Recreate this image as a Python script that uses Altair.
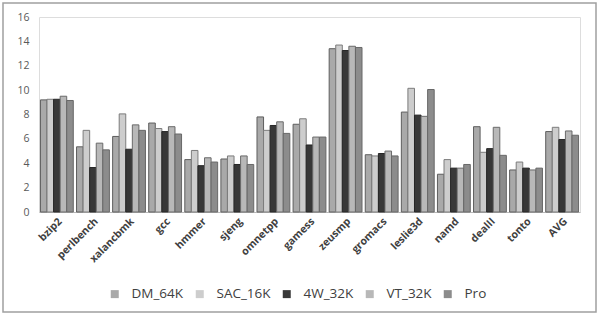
import altair as alt
import pandas as pd

categories = ["bzip2", "perlbench", "xalancbmk", "gcc", "hmmer", "sjeng", "omnetpp",
              "gamess", "zeusmp", "gromacs", "leslie3d", "namd", "dealII", "tonto", "AVG"]
series = ["DM_64K", "SAC_16K", "4W_32K", "VT_32K", "Pro"]

dm_64k  = [9.2, 5.35, 6.2, 7.3, 4.3, 4.35, 7.8, 7.2, 13.4, 4.7, 8.2, 3.1, 7.0, 3.45, 6.6]
sac_16k = [9.25, 6.7, 8.05, 6.85, 5.05, 4.6, 6.7, 7.65, 13.7, 4.6, 10.15, 4.3, 4.9, 4.1, 6.95]
w4_32k  = [9.25, 3.65, 5.15, 6.6, 3.8, 3.9, 7.1, 5.5, 13.25, 4.8, 7.95, 3.6, 5.2, 3.6, 5.95]
vt_32k  = [9.5, 5.65, 7.15, 7.0, 4.45, 4.6, 7.4, 6.15, 13.6, 5.0, 7.85, 3.6, 6.95, 3.45, 6.65]
pro     = [9.15, 5.1, 6.7, 6.4, 4.1, 3.9, 6.45, 6.15, 13.5, 4.6, 10.05, 3.9, 4.65, 3.6, 6.3]

values = [dm_64k, sac_16k, w4_32k, vt_32k, pro]
rows = []
for s, vals in zip(series, values):
    for c, v in zip(categories, vals):
        rows.append({"cat": c, "series": s, "value": v})
df = pd.DataFrame(rows)

fills = ["#a9a9a9", "#cdcdcd", "#383838", "#b8b8b8", "#8c8c8c"]
strokes = ["#5e5e5e", "#7c7c7c", "#262626", "#6a6a6a", "#686868"]

bars = alt.Chart(df).mark_bar(strokeWidth=1).encode(
    x=alt.X("cat:N", sort=categories, title=None,
            scale=alt.Scale(paddingInner=0.09, paddingOuter=0.04),
            axis=alt.Axis(labelAngle=-45, labelFont="Open Sans", labelFontWeight="bold",
                          labelFontSize=10.5, labelColor="#404040", ticks=False,
                          domainColor="#b8b8b8", domainWidth=1, labelPadding=4)),
    xOffset=alt.XOffset("series:N", sort=series),
    y=alt.Y("value:Q", title=None,
            scale=alt.Scale(domain=[0, 16]),
            axis=alt.Axis(values=list(range(0, 17, 2)), grid=False, domain=False, ticks=False,
                          labelFont="Open Sans", labelFontSize=10.5, labelColor="#595959",
                          labelPadding=10)),
    color=alt.Color("series:N", sort=series, title=None,
                    scale=alt.Scale(domain=series, range=fills),
                    legend=alt.Legend(orient="none", direction="horizontal", legendX=69, legendY=270,
                                      symbolType="square", symbolSize=64, symbolStrokeWidth=1,
                                      labelFont="Open Sans", labelFontSize=13.5, labelColor="#404040",
                                      columnPadding=9, labelOffset=10)),
    stroke=alt.Stroke("series:N", sort=series, scale=alt.Scale(domain=series, range=strokes),
                      legend=None),
)

frame = alt.Chart(pd.DataFrame({"a": [0]})).mark_rect(
    fill=None, stroke="#a0a0a0", strokeWidth=1.5
).encode(
    x=alt.value(-36), x2=alt.value(557), y=alt.value(-14), y2=alt.value(295)
)

chart = alt.layer(frame, bars).resolve_scale(color="independent").properties(
    width=541, height=195,
    padding={"left": 39, "top": 17, "right": 26, "bottom": 103},
    autosize=alt.AutoSizeParams(type="none"),
).configure_view(stroke=None).configure(background="white")

chart.save("out.html", embed_options={"renderer": "svg", "actions": False})
